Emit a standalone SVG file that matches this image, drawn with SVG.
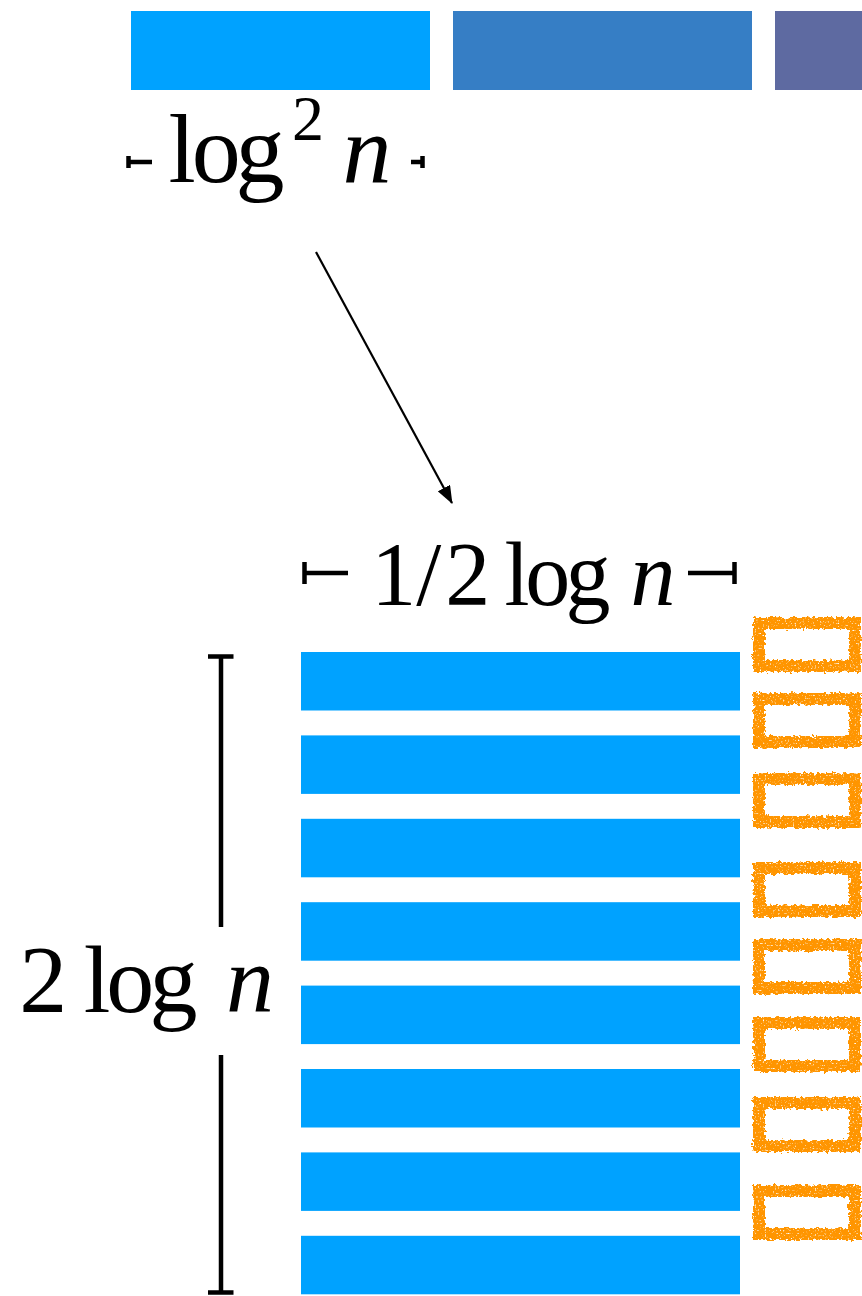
<svg xmlns="http://www.w3.org/2000/svg" width="862" height="1296" viewBox="0 0 862 1296">
<style>
.t{font-family:"Liberation Serif","Times New Roman",serif;fill:#000}
.i{font-style:italic}
.blue{fill:#00A2FF}
.ob{fill:none;stroke:#FF9500;stroke-width:12;filter:url(#rough)}
.tick{stroke:#000;stroke-width:4.5;fill:none}
</style>
<defs>
<filter id="rough" x="-10%" y="-20%" width="120%" height="140%">
<feTurbulence type="fractalNoise" baseFrequency="0.3" numOctaves="2" seed="3" result="n"/>
<feDisplacementMap in="SourceGraphic" in2="n" scale="6" xChannelSelector="R" yChannelSelector="G" result="d"/>
<feTurbulence type="fractalNoise" baseFrequency="0.6" numOctaves="1" seed="7" result="s"/>
<feColorMatrix in="s" type="matrix" values="0 0 0 0 0  0 0 0 0 0  0 0 0 0 0  0 0 0 -5 4" result="m"/>
<feComposite in="d" in2="m" operator="in"/>
</filter>
<marker id="ah" markerWidth="18" markerHeight="14" refX="17" refY="7" orient="auto" markerUnits="userSpaceOnUse" viewBox="0 0 18 14">
<path d="M0,0 L18,7 L0,14 z" fill="#000"/>
</marker>
</defs>
<g id="top-bars">
<rect x="131" y="11" width="299" height="79" fill="#00A2FF"/>
<rect x="453" y="11" width="299" height="79" fill="#367EC5"/>
<rect x="775" y="11" width="87" height="79" fill="#5E6AA1"/>
</g>
<g id="label-log2n">
<path class="tick" d="M128.5,156 V168 M128.5,162 H152"/>
<path class="tick" d="M422.5,156 V168 M422.5,162 H411"/>
<text class="t" y="182" font-size="98" x="168.5 191.7 235.6">log</text>
<text class="t" x="292" y="140" font-size="64">2</text>
<text class="t i" x="342.5" y="182" font-size="98">n</text>
</g>
<g id="connectors">
<line x1="316" y1="252" x2="452" y2="503" stroke="#000" stroke-width="2.2" marker-end="url(#ah)"/>
<path d="M221,656 V927 M221,1055 V1292 M208,656.5 H233.5 M208,1292.5 H233.5" stroke="#000" stroke-width="4.5" fill="none"/>
</g>
<g id="label-half-logn">
<path class="tick" d="M304.5,562 V584 M304.5,573 H348"/>
<path class="tick" d="M734.5,562 V584 M734.5,573 H688"/>
<text class="t" y="605" font-size="90" x="371.3 416.3 445.3">1/2</text>
<text class="t" y="605" font-size="90" x="504.6 525.2 565.6">log</text>
<text class="t i" x="630.4" y="605" font-size="90">n</text>
</g>
<g id="label-2logn">
<text class="t" x="19.3" y="1012" font-size="96">2</text>
<text class="t" y="1012" font-size="96" x="83.8 106.2 149.6">log</text>
<text class="t i" x="226" y="1012" font-size="96">n</text>
</g>
<g id="bars">
<rect class="blue" x="301" y="652" width="439" height="58.5"/>
<rect class="blue" x="301" y="735.4" width="439" height="58.5"/>
<rect class="blue" x="301" y="818.8" width="439" height="58.5"/>
<rect class="blue" x="301" y="902.2" width="439" height="58.5"/>
<rect class="blue" x="301" y="985.6" width="439" height="58.5"/>
<rect class="blue" x="301" y="1069" width="439" height="58.5"/>
<rect class="blue" x="301" y="1152.4" width="439" height="58.5"/>
<rect class="blue" x="301" y="1235.8" width="439" height="58.5"/>
</g>
<g id="orange-boxes">
<rect class="ob" x="759" y="623" width="96" height="43"/>
<rect class="ob" x="759" y="699" width="96" height="43"/>
<rect class="ob" x="759" y="779" width="96" height="43"/>
<rect class="ob" x="759" y="868" width="96" height="43"/>
<rect class="ob" x="759" y="945" width="96" height="43"/>
<rect class="ob" x="759" y="1023" width="96" height="43"/>
<rect class="ob" x="759" y="1103" width="96" height="43"/>
<rect class="ob" x="759" y="1191" width="96" height="43"/>
</g>
</svg>
